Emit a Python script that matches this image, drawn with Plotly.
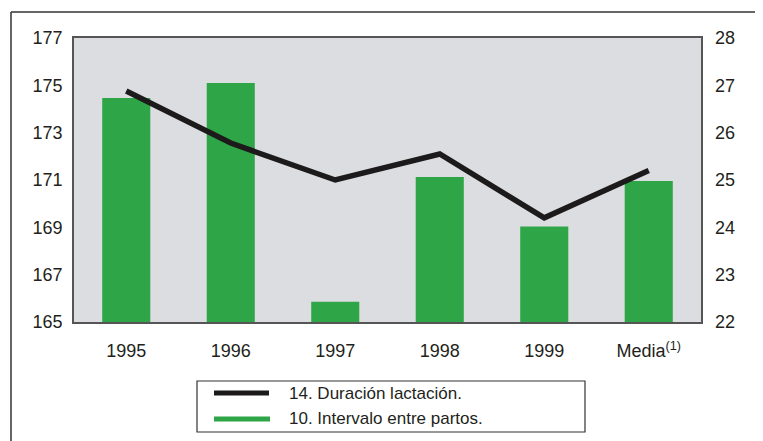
import plotly.graph_objects as go

categories = ["1995", "1996", "1997", "1998", "1999", "Media<sup>(1)</sup>"]
intervalo_partos = [174.47, 175.1, 165.86, 171.13, 169.03, 170.96]
duracion_lactacion = [26.88, 25.78, 25.0, 25.55, 24.2, 25.2]
left_ticks = [165, 167, 169, 171, 173, 175, 177]
right_ticks = [22, 23, 24, 25, 26, 27, 28]
legend_labels = ["14. Duración lactación.", "10. Intervalo entre partos."]

OFF = 8  # page body margin
W, H = 763 - OFF, 441 - OFF
L, R, T, B = 74 - OFF, 701 - OFF, 38 - OFF, 322 - OFF

def px(x):
    return (x - OFF - L) / (R - L)

def py(y):
    return (B - (y - OFF)) / (B - T)

GREEN = "#2ea547"
BLACK = "#1c1a1b"
FONT = "Liberation Sans, Arial, sans-serif"

fig = go.Figure()
fig.add_trace(go.Bar(x=categories, y=intervalo_partos, marker=dict(color=GREEN, line=dict(width=0)),
                     yaxis="y", showlegend=False, name=legend_labels[1]))
fig.add_trace(go.Scatter(x=categories, y=duracion_lactacion, mode="lines",
                         line=dict(color=BLACK, width=5.5), yaxis="y2", showlegend=False,
                         name=legend_labels[0]))

shapes = []
# outer frame (top and left)
shapes.append(dict(type="line", xref="paper", yref="paper", x0=px(11), x1=px(763), y0=py(12), y1=py(12),
                   line=dict(color="#333333", width=1.5)))
shapes.append(dict(type="line", xref="paper", yref="paper", x0=px(11), x1=px(11), y0=py(12), y1=py(441),
                   line=dict(color="#333333", width=1.5)))
# legend box
shapes.append(dict(type="rect", xref="paper", yref="paper", x0=px(197), x1=px(585), y0=py(381), y1=py(432),
                   line=dict(color="#333333", width=1.2), fillcolor="white"))
shapes.append(dict(type="line", xref="paper", yref="paper", x0=px(214), x1=px(269), y0=py(393), y1=py(393),
                   line=dict(color=BLACK, width=5)))
shapes.append(dict(type="line", xref="paper", yref="paper", x0=px(214), x1=px(270), y0=py(419), y1=py(419),
                   line=dict(color=GREEN, width=5)))

annotations = []
for lab, yy in zip(legend_labels, [393, 418]):
    annotations.append(dict(text=lab, xref="paper", yref="paper", x=px(287), y=py(yy),
                            xanchor="left", yanchor="middle", showarrow=False,
                            font=dict(family=FONT, size=17, color="#231f20")))

fig.update_layout(
    width=W, height=H,
    margin=dict(l=L, r=W - R, t=T, b=H - B, autoexpand=False),
    paper_bgcolor="white",
    plot_bgcolor="#dcdde0",
    bargap=0.54,
    font=dict(family=FONT, size=18, color="#231f20"),
    xaxis=dict(type="category", showgrid=False, ticks="", showline=True, linecolor="#555555",
               linewidth=1.5, mirror=True, ticklabelstandoff=12, tickfont=dict(size=18)),
    yaxis=dict(range=[165, 177], tickvals=left_ticks, showgrid=False, zeroline=False, ticks="",
               showline=True, linecolor="#555555", linewidth=1.5, mirror=True,
               ticklabelstandoff=6, tickfont=dict(size=18)),
    yaxis2=dict(range=[22, 28], tickvals=right_ticks, overlaying="y", side="right", showgrid=False,
                zeroline=False, ticks="", showline=False, ticklabelstandoff=13, tickfont=dict(size=18)),
    shapes=shapes,
    annotations=annotations,
    showlegend=False,
)

fig.write_html("out.html")
